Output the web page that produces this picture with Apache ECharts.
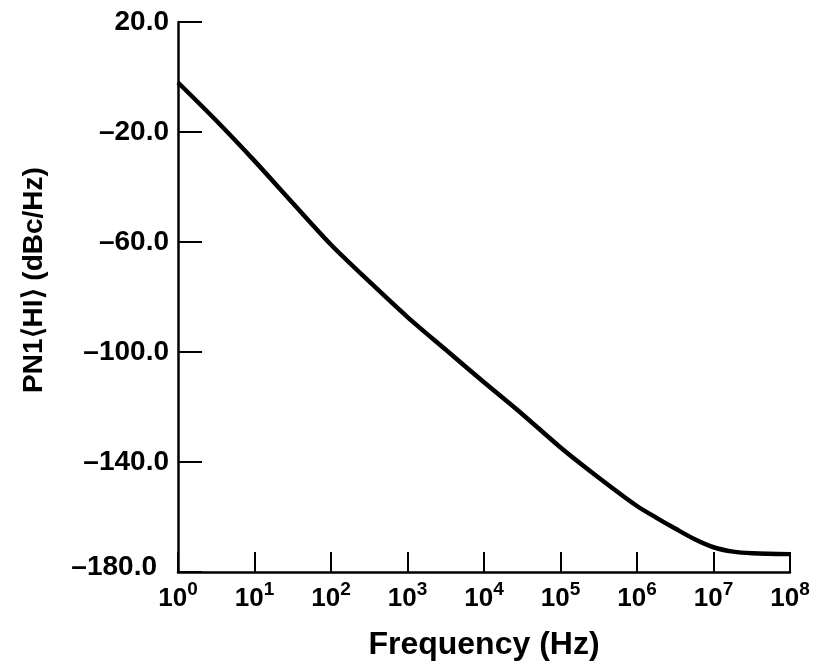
<!DOCTYPE html>
<html>
<head>
<meta charset="utf-8">
<script src="https://cdn.jsdelivr.net/npm/echarts@6/dist/echarts.min.js"></script>
<style>
    html, body { margin: 0; padding: 0; background: #fff; }
    #chart { width: 836px; height: 666px; }
</style>
</head>
<body>
<div id="chart"></div>
<script>
// frequency (Hz) and phase noise (dBc/Hz)
const freqs = [1, 3.2, 10, 32, 100, 320, 1e3, 3.2e3, 1e4, 3.2e4, 1e5, 3.2e5, 1e6, 1.8e6, 3.2e6, 5.6e6, 1e7, 1.8e7, 3.2e7, 1e8];
const noise = [-2, -16, -30.5, -46, -61, -74.5, -87.3, -99.3, -111, -122.7, -134.7, -145.8, -156, -160.3, -164.3, -168, -171, -172.6, -173.2, -173.5];

const yMin = -180;
const yMax = 20;
const yStep = 40;

const FONT = 'Liberation Sans';

/** y labels look like "–20.0" */
const fmtY = (v) => {
    const s = (v < 0 ? '\u2013' : '') + Math.abs(v).toFixed(1);
    return v === yMin ? `{low|${s}}` : s;
};

/** x labels are powers of ten: 10 with a raised exponent */
const fmtX = (v) => {
    const e = Math.round(Math.log10(v));
    return `{b|10}{e|${e}}`;
};

const chart = echarts.init(document.getElementById('chart'));
chart.setOption({
    backgroundColor: '#fff',
    animation: false,
    grid: { left: 178, right: 46, top: 22, bottom: 86, containLabel: false },
    xAxis: {
        type: 'log',
        logBase: 10,
        min: 1,
        max: 1e8,
        splitNumber: 8,
        name: 'Frequency (Hz)',
        nameLocation: 'middle',
        nameGap: 57,
        nameTextStyle: { fontFamily: FONT, fontSize: 32, fontWeight: 'bold', color: '#000' },
        axisLine: { onZero: false, lineStyle: { color: '#000', width: 2.5 } },
        axisTick: { inside: true, length: 20, lineStyle: { color: '#000', width: 2 } },
        splitLine: { show: false },
        minorTick: { show: false },
        axisLabel: {
            margin: 8,
            formatter: fmtX,
            rich: {
                b: { fontFamily: FONT, fontSize: 26, fontWeight: 'bold', color: '#000', lineHeight: 32, verticalAlign: 'bottom' },
                e: { fontFamily: FONT, fontSize: 19, fontWeight: 'bold', color: '#000', lineHeight: 18, verticalAlign: 'top' },
            },
        },
    },
    yAxis: {
        type: 'value',
        min: yMin,
        max: yMax,
        interval: yStep,
        name: 'PN1\u27E8HI\u27E9 (dBc/Hz)',
        nameLocation: 'middle',
        nameGap: 130,
        nameTextStyle: { fontFamily: FONT, fontSize: 28, fontWeight: 'bold', color: '#000', padding: [0, 0, 0, 34] },
        axisLine: { show: true, lineStyle: { color: '#000', width: 2.5 } },
        axisTick: { show: true, inside: true, length: 24, lineStyle: { color: '#000', width: 2 } },
        splitLine: { show: false },
        axisLabel: {
            margin: 9,
            fontFamily: FONT,
            fontSize: 28,
            fontWeight: 'bold',
            color: '#000',
            formatter: fmtY,
            rich: {
                low: { fontFamily: FONT, fontSize: 28, fontWeight: 'bold', color: '#000', padding: [0, 12, 9, 0] },
            },
        },
    },
    series: [
        {
            type: 'line',
            data: freqs.map((f, i) => [f, noise[i]]),
            smooth: 0.3,
            showSymbol: false,
            lineStyle: { color: '#000', width: 4.5 },
        },
    ],
});
</script>
</body>
</html>
